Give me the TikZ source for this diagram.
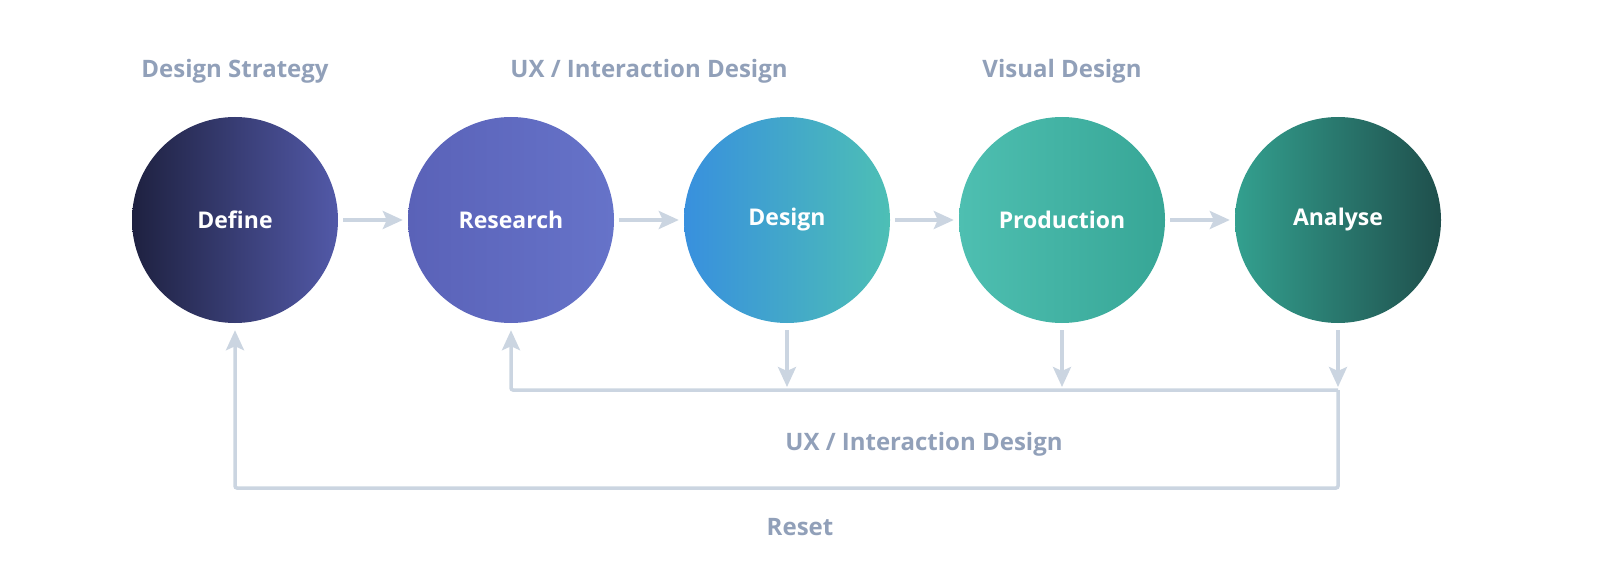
\documentclass[tikz,border=0pt]{standalone}
\usepackage{fontspec}
\setmainfont{Open Sans}
\usetikzlibrary{arrows.meta}
\definecolor{txtgray}{HTML}{91A0B9}
\definecolor{linegray}{HTML}{CBD5E1}
\definecolor{defL}{HTML}{1E2140}
\definecolor{defR}{HTML}{5259A8}
\definecolor{resL}{HTML}{5A62B8}
\definecolor{resR}{HTML}{6673C9}
\definecolor{desL}{HTML}{3890DE}
\definecolor{desR}{HTML}{4DBFB5}
\definecolor{proL}{HTML}{4EBFB1}
\definecolor{proR}{HTML}{37A696}
\definecolor{anaL}{HTML}{33A08F}
\definecolor{anaR}{HTML}{1F4F4C}
\tikzset{
  stage/.style={circle, minimum size=206pt, inner sep=0pt, text=white,
    font=\fontsize{23}{27}\selectfont\bfseries},
  heading/.style={text=txtgray, inner sep=0pt, anchor=base,
    font=\fontsize{24}{28}\selectfont\bfseries},
  conn/.style={draw=linegray, line width=3.5pt},
  arr/.style={conn, -{Stealth[length=20pt,width=18pt,inset=4pt]}},
}
\begin{document}
\begin{tikzpicture}[x=1pt,y=-1pt]
\path[use as bounding box] (0,0) rectangle (1600,575);

\node[stage, left color=defL, right color=defR] (define) at (235,220) {Define};
\node[stage, left color=resL, right color=resR] (research) at (511,220) {Research};
\node[stage, left color=desL, right color=desR] (design) at (787,220) {Design};
\node[stage, left color=proL, right color=proR] (production) at (1062,220) {Production};
\node[stage, left color=anaL, right color=anaR] (analyse) at (1338,220) {Analyse};

\node[heading] (h1) at (235,78) {Design Strategy};
\node[heading] (h2) at (649,78) {UX / Interaction Design};
\node[heading] (h3) at (1062,78) {Visual Design};
\node[heading] (h4) at (924,450) {UX / Interaction Design};
\node[heading] (h5) at (800,535) {Reset};

\draw[arr, shorten <=5pt, shorten >=5pt] (define) -- (research);
\draw[arr, shorten <=5pt, shorten >=5pt] (research) -- (design);
\draw[arr, shorten <=5pt, shorten >=5pt] (design) -- (production);
\draw[arr, shorten <=5pt, shorten >=5pt] (production) -- (analyse);

\coordinate (ux) at (1338,390);
\coordinate (rs) at (1338,488);

\draw[arr, shorten <=7pt, shorten >=3pt] (design.south) -- (design.south |- ux);
\draw[arr, shorten <=7pt, shorten >=3pt] (production.south) -- (production.south |- ux);
\draw[arr, shorten <=7pt, shorten >=3pt] (analyse.south) -- (ux);

\draw[arr, rounded corners=2pt, shorten >=7pt] (ux) -- (research.south |- ux) -- (research.south);
\draw[arr, rounded corners=2pt, shorten >=7pt] (ux) -- (rs) -- (define.south |- rs) -- (define.south);
\end{tikzpicture}
\end{document}
